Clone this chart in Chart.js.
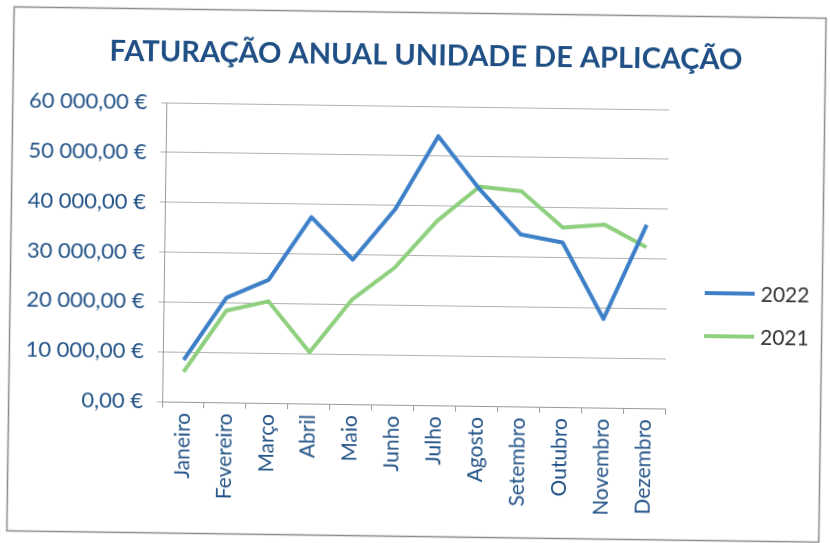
<!DOCTYPE html>
<html>
<head>
    <title>Faturação Anual</title>
    <script src="https://cdn.jsdelivr.net/npm/chart.js"></script>
    <style>
        body {
            margin: 0;
            background: #ffffff;
        }
        .wrap {
            width: 830px;
            height: 543px;
            transform: rotate(0.8deg);
            transform-origin: 415px 271px;
        }
    </style>
</head>
<body>
    <div class="wrap">
        <canvas id="salesChart" width="830" height="543"></canvas>
    </div>

    <script>
        const months = ['Janeiro', 'Fevereiro', 'Março', 'Abril', 'Maio', 'Junho',
            'Julho', 'Agosto', 'Setembro', 'Outubro', 'Novembro', 'Dezembro'];
        const sales2022 = [8400, 21000, 24700, 37400, 29000, 39300, 54000, 43500, 34500, 33000, 17800, 36800];
        const sales2021 = [6000, 18400, 20400, 10300, 21000, 27500, 37000, 44000, 43200, 36000, 36700, 32300];
        const yMax = 60000;
        const yStep = 10000;

        const titleText = 'FATURAÇÃO ANUAL UNIDADE DE APLICAÇÃO';
        const fontName = 'Lato, "Open Sans", sans-serif';
        const blueText = '#245488';

        // 60000 -> "60 000,00 €"
        function euro(v) {
            const parts = v.toFixed(2).split('.');
            const whole = parts[0].replace(/\B(?=(\d{3})+(?!\d))/g, ' ');
            return whole + ',' + parts[1] + ' €';
        }

        // outer frame, title and the small legend on the right
        const decorations = {
            id: 'decorations',
            beforeDraw(chart) {
                const ctx = chart.ctx;
                ctx.save();
                ctx.fillStyle = '#ffffff';
                ctx.fillRect(0, 0, chart.width, chart.height);
                ctx.strokeStyle = '#8a8a8a';
                ctx.lineWidth = 1.5;
                ctx.strokeRect(10.5, 12.5, 812, 524);
                ctx.restore();
            },
            afterDraw(chart) {
                const ctx = chart.ctx;
                ctx.save();
                ctx.fillStyle = '#1f4f85';
                ctx.font = 'bold 29px ' + fontName;
                ctx.textAlign = 'center';
                ctx.textBaseline = 'middle';
                ctx.fillText(titleText, 423, 56);

                ctx.font = '21px ' + fontName;
                ctx.textAlign = 'left';
                chart.data.datasets.forEach((ds, i) => {
                    const y = 289 + i * 43;
                    ctx.strokeStyle = ds.borderColor;
                    ctx.lineWidth = 4;
                    ctx.beginPath();
                    ctx.moveTo(705, y);
                    ctx.lineTo(755, y);
                    ctx.stroke();
                    ctx.fillStyle = '#333333';
                    ctx.fillText(ds.label, 761, y + 1);
                });
                ctx.restore();
            }
        };

        const data = {
            labels: months,
            datasets: [{
                label: '2022',
                data: sales2022,
                borderColor: '#3d80c8',
                borderWidth: 4,
                pointRadius: 0,
                borderJoinStyle: 'round',
                tension: 0
            }, {
                label: '2021',
                data: sales2021,
                borderColor: '#8fd07f',
                borderWidth: 4,
                pointRadius: 0,
                borderJoinStyle: 'round',
                tension: 0
            }]
        };

        const config = {
            type: 'line',
            data: data,
            plugins: [decorations],
            options: {
                responsive: false,
                animation: false,
                layout: {
                    padding: { top: 106, left: 20, right: 163, bottom: 0 }
                },
                plugins: {
                    legend: { display: false },
                    title: { display: false },
                    tooltip: { enabled: false }
                },
                scales: {
                    x: {
                        offset: true,
                        afterFit: (scale) => { scale.height = 138; },
                        grid: {
                            offset: true,
                            drawOnChartArea: false,
                            drawTicks: true,
                            tickLength: 6,
                            color: '#9a9a9a'
                        },
                        border: { color: '#9a9a9a' },
                        ticks: {
                            minRotation: 90,
                            maxRotation: 90,
                            padding: 5,
                            color: blueText,
                            font: { family: fontName, size: 21 }
                        }
                    },
                    y: {
                        min: 0,
                        max: yMax,
                        afterFit: (scale) => { scale.width = 144; },
                        grid: {
                            color: '#b0b0b0',
                            lineWidth: 1,
                            tickLength: 5
                        },
                        border: { color: '#9a9a9a' },
                        ticks: {
                            stepSize: yStep,
                            padding: 14,
                            color: blueText,
                            font: { family: fontName, size: 22 },
                            callback: (v) => euro(v)
                        }
                    }
                }
            }
        };

        window.onload = () => {
            new Chart(document.getElementById('salesChart'), config);
        };
    </script>
</body>
</html>
